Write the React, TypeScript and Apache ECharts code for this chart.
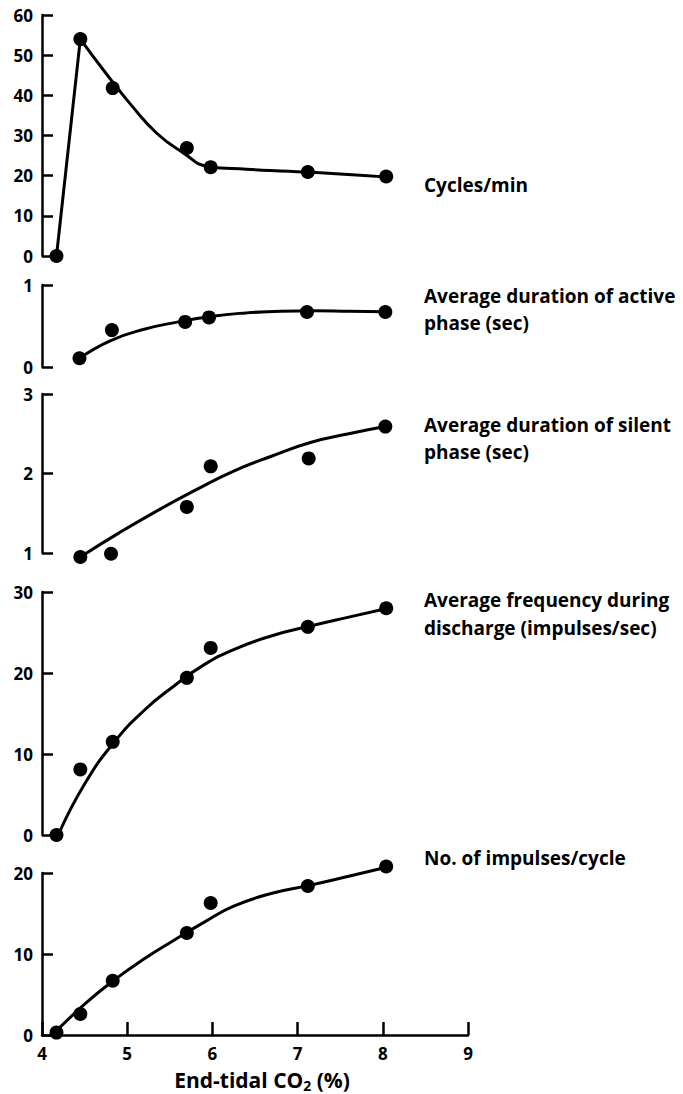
import React, { useEffect, useRef } from "react";
import * as echarts from "echarts";

// X values of the measurements (End-tidal CO2 %)
const xPts = [4.17, 4.45, 4.83, 5.7, 5.98, 7.12, 8.04];

// Panel 1: Cycles/min
const cyclesPts = [0, 54, 41.8, 26.9, 22.1, 20.9, 19.8];
const cyclesCurveX = [4.17, 4.45, 4.75, 5.05, 5.35, 5.65, 5.95, 6.4, 6.9, 7.45, 8.02];
const cyclesCurveY = [0, 54, 45.5, 37.5, 30.5, 25.8, 22.3, 21.6, 21.1, 20.5, 19.7];

// Panel 2: Average duration of active phase (sec)
const activeX = [4.44, 4.82, 5.68, 5.96, 7.11, 8.03];
const activePts = [0.106, 0.45, 0.55, 0.605, 0.67, 0.67];
const activeCurveX = [4.44, 4.8, 5.2, 5.6, 6.0, 6.4, 6.8, 7.2, 7.6, 8.03];
const activeCurveY = [0.106, 0.32, 0.46, 0.55, 0.62, 0.66, 0.68, 0.685, 0.68, 0.675];

// Panel 3: Average duration of silent phase (sec)
const silentX = [4.45, 4.81, 5.7, 5.98, 7.13, 8.03];
const silentPts = [0.95, 0.99, 1.58, 2.09, 2.19, 2.59];
const silentCurveX = [4.45, 4.9, 5.35, 5.8, 6.25, 6.7, 7.15, 7.6, 8.03];
const silentCurveY = [0.95, 1.25, 1.53, 1.79, 2.03, 2.22, 2.39, 2.5, 2.59];

// Panel 4: Average frequency during discharge (impulses/sec)
const freqPts = [0, 8.1, 11.5, 19.4, 23.1, 25.7, 28.0];
const freqCurveX = [4.19, 4.5, 4.85, 5.2, 5.55, 5.9, 6.25, 6.7, 7.15, 7.6, 8.06];
const freqCurveY = [0, 6.3, 11.5, 15.4, 18.4, 21.0, 22.9, 24.6, 25.8, 26.9, 28.0];

// Panel 5: No. of impulses/cycle
const impPts = [0.3, 2.6, 6.7, 12.6, 16.3, 18.4, 20.8];
const impCurveX = [4.15, 4.5, 4.85, 5.2, 5.55, 5.9, 6.25, 6.7, 7.15, 7.6, 8.08];
const impCurveY = [0.3, 3.8, 6.8, 9.4, 11.7, 13.9, 15.9, 17.5, 18.5, 19.6, 20.8];

const xTicks = [4, 5, 6, 7, 8, 9];

const zip = (xs: number[], ys: number[]) => xs.map((x, i) => [x, ys[i]]);

const FONT = "'Open Sans', Lato, sans-serif";

export default function App() {
  const ref = useRef<HTMLDivElement>(null);
  useEffect(() => {
    if (!ref.current) return;
    const chart = echarts.init(ref.current, null, { renderer: "svg" });
    const panels = [
      { top: 15, height: 241, min: 0, max: 60, interval: 10 },
      { top: 285, height: 82, min: 0, max: 1, interval: 1 },
      { top: 394, height: 159, min: 1, max: 3, interval: 1 },
      { top: 592, height: 243, min: 0, max: 30, interval: 10 },
      { top: 873, height: 162, min: 0, max: 20, interval: 10 },
    ];
    const grid = panels.map((p) => ({ left: 42, width: 426, top: p.top, height: p.height }));
    const xAxis = panels.map((p, i) => ({
      type: "value",
      gridIndex: i,
      min: 4,
      max: 9,
      interval: 1,
      show: i === 4,
      axisLine: { show: true, onZero: false, lineStyle: { color: "#000", width: 2.5 } },
      axisTick: { show: true, inside: true, length: 13, lineStyle: { color: "#000", width: 2.5 } },
      axisLabel: {
        show: true,
        margin: 10,
        color: "#000",
        fontSize: 17,
        fontWeight: "bold",
        fontFamily: FONT,
        formatter: (v: number) => (xTicks.includes(v) ? String(v) : ""),
      },
      splitLine: { show: false },
    }));
    const yAxis = panels.map((p, i) => ({
      type: "value",
      gridIndex: i,
      min: p.min,
      max: p.max,
      interval: p.interval,
      axisLine: { show: true, onZero: false, lineStyle: { color: "#000", width: 2.5 } },
      axisTick: { show: true, inside: true, length: 11, lineStyle: { color: "#000", width: 2.5 } },
      axisLabel: { margin: 9, color: "#000", fontSize: 17, fontWeight: "bold", fontFamily: FONT },
      splitLine: { show: false },
    }));
    const line = (i: number, data: number[][], smooth: number | boolean) => ({
      type: "line",
      xAxisIndex: i,
      yAxisIndex: i,
      data,
      smooth,
      clip: false,
      showSymbol: false,
      lineStyle: { color: "#000", width: 3 },
      z: 2,
    });
    const dots = (i: number, data: number[][]) => ({
      type: "scatter",
      xAxisIndex: i,
      yAxisIndex: i,
      data,
      clip: false,
      symbolSize: 14,
      itemStyle: { color: "#000", opacity: 1 },
      z: 3,
    });
    const cyc = zip(cyclesCurveX, cyclesCurveY);
    const series = [
      line(0, cyc.slice(0, 2), false),
      line(0, cyc.slice(1), 0.5),
      dots(0, zip(xPts, cyclesPts)),
      line(1, zip(activeCurveX, activeCurveY), 0.5),
      dots(1, zip(activeX, activePts)),
      line(2, zip(silentCurveX, silentCurveY), 0.5),
      dots(2, zip(silentX, silentPts)),
      line(3, zip(freqCurveX, freqCurveY), 0.5),
      dots(3, zip(xPts, freqPts)),
      line(4, zip(impCurveX, impCurveY), 0.5),
      dots(4, zip(xPts, impPts)),
    ];
    const labelFont = `bold 19px ${FONT}`;
    const lbl = (text: string, y: number) => ({
      type: "text",
      x: 424,
      y,
      style: { text, font: labelFont, fill: "#000", verticalAlign: "middle", align: "left" },
    });
    chart.setOption({
      animation: false,
      backgroundColor: "#fff",
      grid,
      xAxis,
      yAxis,
      series,
      graphic: [
        lbl("Cycles/min", 185),
        lbl("Average duration of active", 296),
        lbl("phase (sec)", 323),
        lbl("Average duration of silent", 425),
        lbl("phase (sec)", 452),
        lbl("Average frequency during", 600),
        lbl("discharge (impulses/sec)", 628),
        lbl("No. of impulses/cycle", 858),
        {
          type: "text",
          x: 262,
          y: 1080,
          style: {
            text: "End-tidal CO{s|2} (%)",
            font: `bold 21px ${FONT}`,
            fill: "#000",
            align: "center",
            verticalAlign: "middle",
            rich: { s: { fontSize: 14, fontWeight: "bold", fontFamily: FONT, verticalAlign: "bottom", padding: [10, 0, 0, 0] } },
          },
        },
      ],
    });
    return () => chart.dispose();
  }, []);
  return (
    <div
      ref={ref}
      style={{ position: "absolute", left: 0, top: 0, width: 683, height: 1094, background: "#fff" }}
    />
  );
}
